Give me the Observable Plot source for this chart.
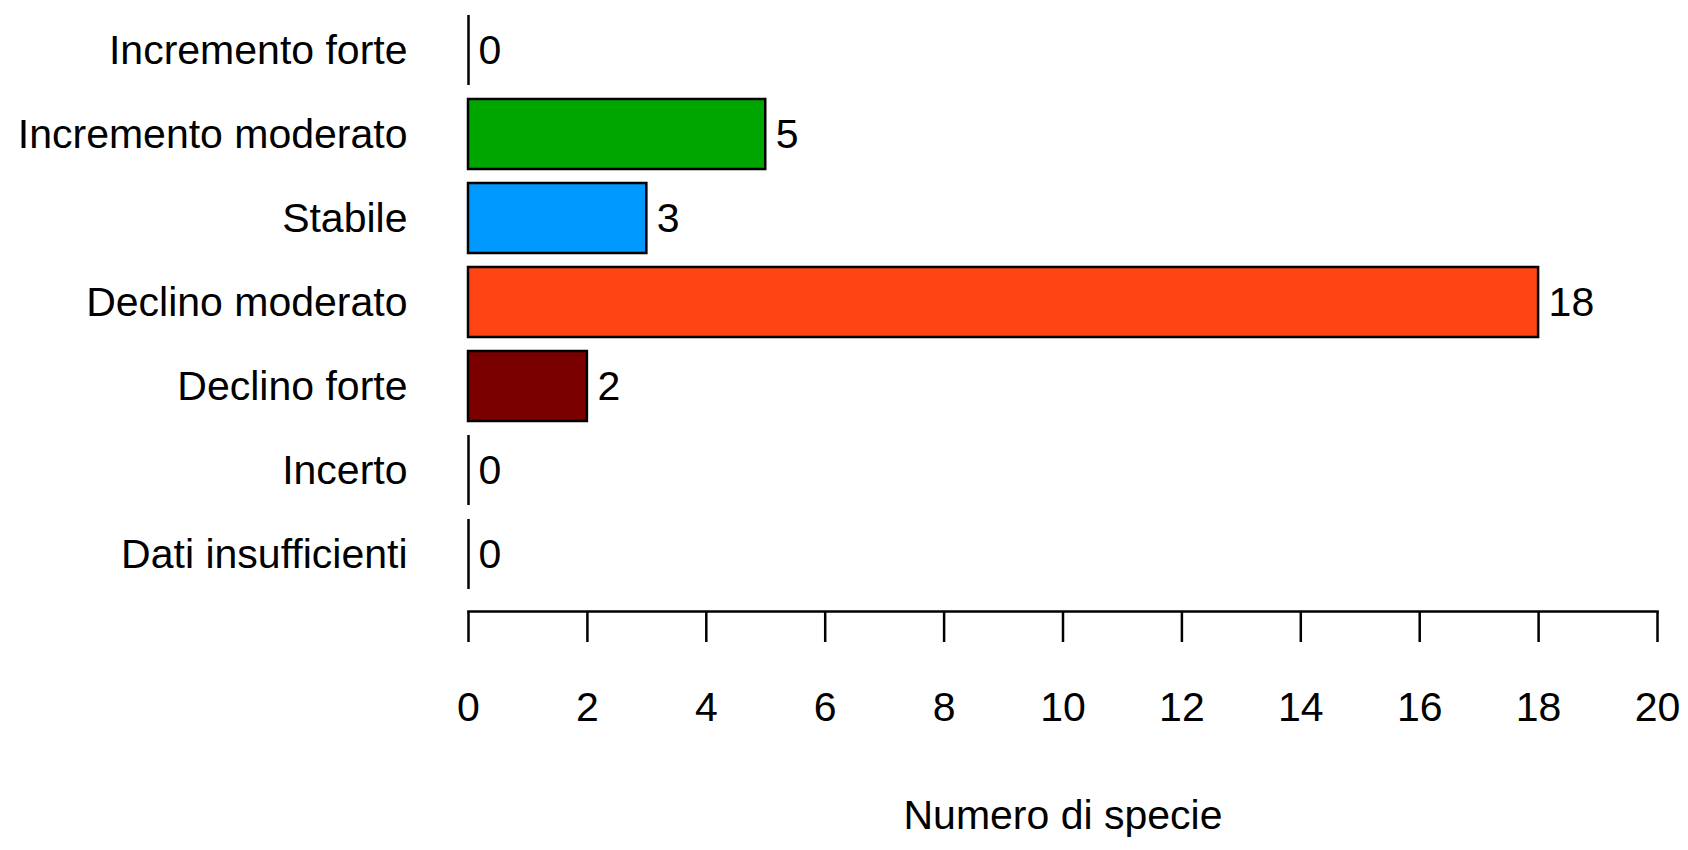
<!DOCTYPE html>
<html>
<head>
<meta charset="utf-8">
<script src="https://cdn.jsdelivr.net/npm/d3@7"></script>
<script src="https://cdn.jsdelivr.net/npm/@observablehq/plot@0.6"></script>
<style>
  html, body { margin: 0; padding: 0; background: #fff; }
  #chart svg { display: block; }
</style>
</head>
<body>
<div id="chart"></div>
<script>
const categories = ["Incremento forte", "Incremento moderato", "Stabile", "Declino moderato", "Declino forte", "Incerto", "Dati insufficienti"];
const values = [0, 5, 3, 18, 2, 0, 0];
const colors = ["#ffffff", "#00a600", "#0099ff", "#ff4513", "#7a0000", "#ffffff", "#ffffff"];
const xTicks = [0, 2, 4, 6, 8, 10, 12, 14, 16, 18, 20];
const xTitle = "Numero di specie";

const data = categories.map((c, i) => ({category: c, value: values[i], color: colors[i]}));
const font = "'Liberation Sans', Arial, Helvetica, sans-serif";

const chart = Plot.plot({
  width: 1688,
  height: 850,
  marginLeft: 468,
  marginRight: 31,
  marginTop: 0,
  marginBottom: 239,
  style: {fontFamily: font, fontSize: "41px", color: "#000", background: "#fff"},
  x: {domain: [0, 20]},
  y: {domain: categories, paddingInner: 0.1667, paddingOuter: 0.22, align: 0.405},
  color: {type: "identity"},
  marks: [
    Plot.barX(data.filter(d => d.value > 0), {x: "value", y: "category", fill: "color", stroke: "#000", strokeWidth: 2.5}),
    Plot.tickX(data.filter(d => d.value === 0), {x: "value", y: "category", stroke: "#000", strokeWidth: 2.5}),
    Plot.text(data, {x: "value", y: "category", text: d => String(d.value), textAnchor: "start", dx: 10, fontSize: 41, fill: "#000"}),
    Plot.frame({anchor: "bottom", stroke: "#000", strokeWidth: 2.5}),
    Plot.axisX({ticks: xTicks, tickSize: 31, tickPadding: 49, fontSize: 41, strokeWidth: 2.5, label: null, tickFormat: d => String(d)}),
    Plot.axisY({tickSize: 0, tickPadding: 61, fontSize: 41, label: null}),
    Plot.text([xTitle], {frameAnchor: "bottom", dy: 217, fontSize: 41, fill: "#000"})
  ]
});
document.getElementById("chart").appendChild(chart);
</script>
</body>
</html>
